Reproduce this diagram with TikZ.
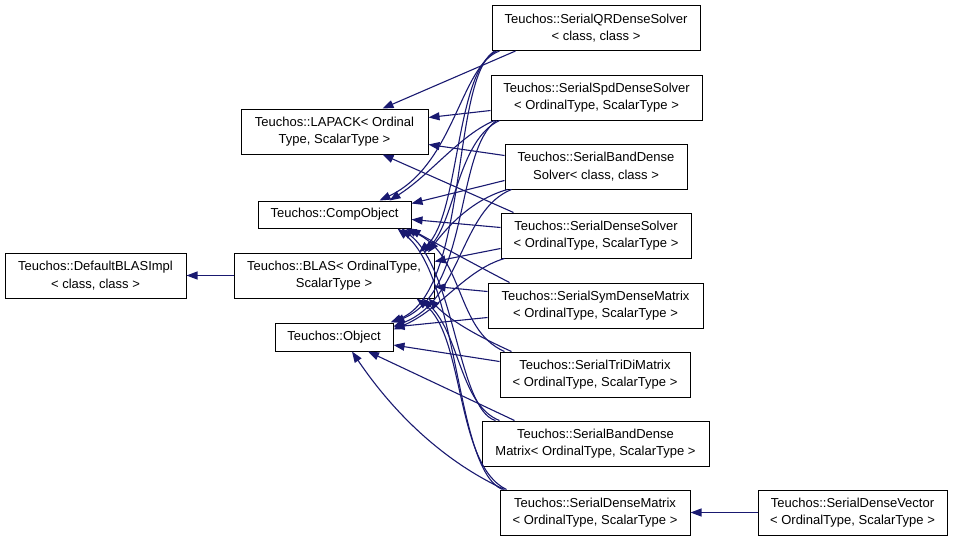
\documentclass[tikz,border=0pt]{standalone}
\usepackage{fontspec}
\setmainfont{Liberation Sans}
\usetikzlibrary{arrows.meta}
\definecolor{navy}{HTML}{191970}
\begin{document}
\begin{tikzpicture}[x=1pt,y=-1pt,
  box/.style={draw=black, line width=1pt, fill=white, align=center, inner sep=0pt,
    font=\fontsize{13}{17.5}\selectfont, minimum height=45pt},
  edge/.style={draw=navy, line width=1.1pt, -{Triangle[length=11pt,width=8pt]}}]
\useasboundingbox (0,0) rectangle (955,541);
% nodes
\node[box, minimum width=181pt] (dflt) at (95.5,275.5) {Teuchos::DefaultBLASImpl\\< class, class >};
\node[box, minimum width=200pt] (blas) at (334,275.5) {Teuchos::BLAS< OrdinalType,\\ScalarType >};
\node[box, minimum width=187pt] (lapack) at (334.5,131.5) {Teuchos::LAPACK< Ordinal\\Type, ScalarType >};
\node[box, minimum width=153pt, minimum height=27pt] (comp) at (334.5,214.5) {Teuchos::CompObject};
\node[box, minimum width=118pt, minimum height=28pt] (obj) at (334,337) {Teuchos::Object};
\node[box, minimum width=208pt] (qr) at (596,28) {Teuchos::SerialQRDenseSolver\\< class, class >};
\node[box, minimum width=211pt] (spd) at (596.5,97.5) {Teuchos::SerialSpdDenseSolver\\< OrdinalType, ScalarType >};
\node[box, minimum width=182pt] (bsolv) at (596,166.5) {Teuchos::SerialBandDense\\Solver< class, class >};
\node[box, minimum width=190pt] (dsolv) at (596,235.5) {Teuchos::SerialDenseSolver\\< OrdinalType, ScalarType >};
\node[box, minimum width=215pt] (sym) at (595.5,305.5) {Teuchos::SerialSymDenseMatrix\\< OrdinalType, ScalarType >};
\node[box, minimum width=190pt] (tri) at (595,374.5) {Teuchos::SerialTriDiMatrix\\< OrdinalType, ScalarType >};
\node[box, minimum width=227pt] (bmat) at (595.5,443.5) {Teuchos::SerialBandDense\\Matrix< OrdinalType, ScalarType >};
\node[box, minimum width=190pt] (dmat) at (595,512.5) {Teuchos::SerialDenseMatrix\\< OrdinalType, ScalarType >};
\node[box, minimum width=189pt] (dvec) at (852.5,512.5) {Teuchos::SerialDenseVector\\< OrdinalType, ScalarType >};
% straight edges
\draw[edge] (blas.west) -- (dflt.east);
\draw[edge] (dvec.west) -- (dmat.east);
\draw[edge] ([xshift=24pt]qr.south west) -- ([xshift=48pt]lapack.north);
\draw[edge] ([yshift=-13pt]spd.west) -- ([yshift=14pt]lapack.east);
\draw[edge] ([yshift=11pt]bsolv.west) -- ([yshift=-13pt]lapack.east);
\draw[edge] ([xshift=13pt]dsolv.north west) -- ([xshift=48pt]lapack.south);
\draw[edge] ([yshift=-14pt]bsolv.west) -- ([yshift=-3pt]comp.north east);
\draw[edge] ([yshift=8pt]dsolv.west) -- ([yshift=-5pt]comp.east);
\draw[edge] ([yshift=-13pt]dsolv.west) -- ([yshift=14pt]blas.east);
\draw[edge] ([yshift=14pt]sym.west) -- ([yshift=-11pt]blas.east);
\draw[edge] ([yshift=-12pt]sym.west) -- ([yshift=10pt]obj.east);
\draw[edge] ([yshift=13pt]tri.west) -- ([yshift=-8pt]obj.east);
\draw[edge] ([xshift=33pt]bmat.north west) -- ([xshift=34pt]obj.south);
\draw[edge] ([xshift=5pt]dmat.north west) .. controls (445,462) and (395,415) .. ([xshift=18pt]obj.south);
% curved edges from upper classes
\draw[edge] ([xshift=8pt]qr.south west) .. controls (460,65) and (455,165) .. ([xshift=45pt]comp.north);
\draw[edge] ([xshift=5pt]qr.south west) .. controls (455,70) and (460,215) .. ([xshift=85pt]blas.north);
\draw[edge] ([xshift=3pt]qr.south west) .. controls (450,80) and (470,290) .. ([xshift=-3pt]obj.north east);
\draw[edge] ([xshift=4pt]spd.south west) .. controls (460,135) and (430,175) .. ([xshift=55pt]comp.north);
\draw[edge] ([xshift=9pt]spd.south west) .. controls (458,140) and (455,220) .. ([xshift=90pt]blas.north);
\draw[edge] ([xshift=6pt]spd.south west) .. controls (455,150) and (470,290) .. (obj.north east);
\draw[edge] ([xshift=3pt]bsolv.south west) .. controls (470,200) and (445,230) .. ([xshift=94pt]blas.north);
\draw[edge] ([xshift=7pt]bsolv.south west) .. controls (460,210) and (462,300) .. ([yshift=-4pt]obj.north east);
\draw[edge] ([xshift=4pt]dsolv.south west) .. controls (465,270) and (440,310) .. ([yshift=-7pt]obj.north east);
% curved edges from lower classes
\draw[edge] ([xshift=22pt]sym.north west) .. controls (470,262) and (430,240) .. ([xshift=-2pt]comp.south east);
\draw[edge] ([xshift=5pt]tri.north west) .. controls (455,330) and (465,255) .. ([xshift=-6pt]comp.south east);
\draw[edge] ([xshift=12pt]tri.north west) .. controls (475,335) and (450,320) .. ([xshift=-6pt]blas.south east);
\draw[edge] ([xshift=14pt]bmat.north west) .. controls (458,410) and (455,270) .. ([xshift=-10pt]comp.south east);
\draw[edge] ([xshift=18pt]bmat.north west) .. controls (460,405) and (460,335) .. ([xshift=-12pt]blas.south east);
\draw[edge] ([xshift=3pt]dmat.north west) .. controls (455,470) and (460,280) .. ([xshift=-14pt]comp.south east);
\draw[edge] ([xshift=7pt]dmat.north west) .. controls (455,465) and (465,335) .. ([xshift=-18pt]blas.south east);
\end{tikzpicture}
\end{document}
